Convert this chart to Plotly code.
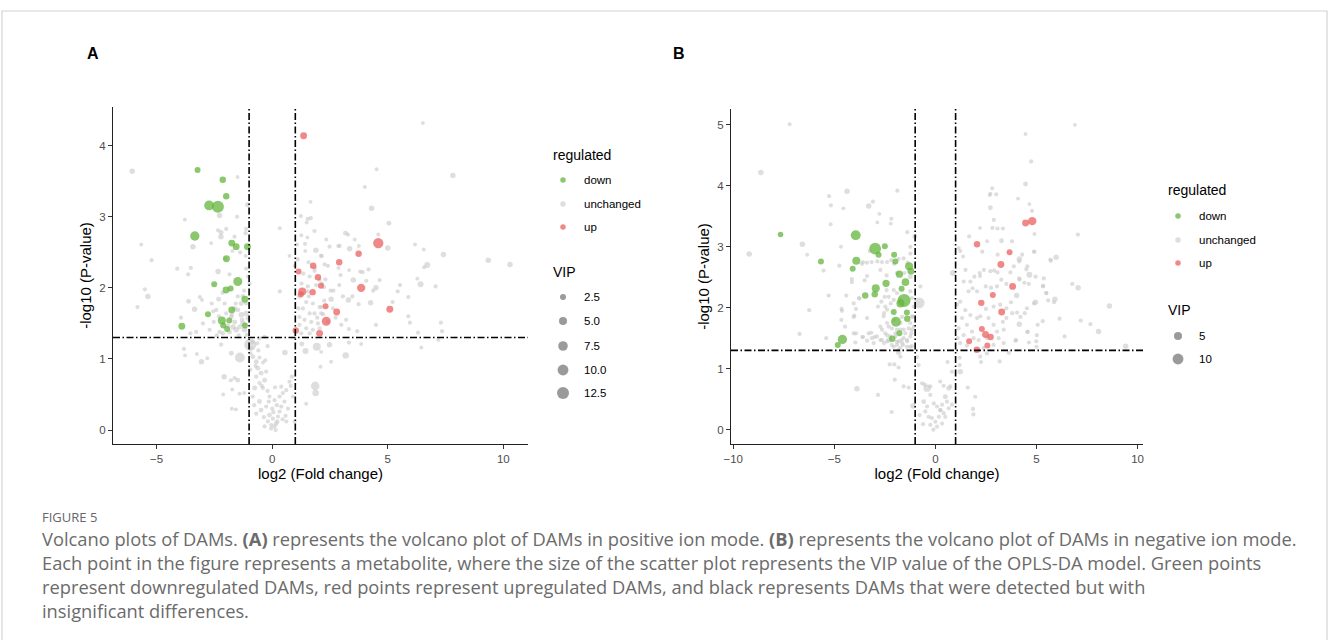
import math
import plotly.graph_objects as go

W, H = 1330, 640

# ---------------- DATA : panel A (positive ion mode) ----------------
A_down_x = [-3.23, -2.14, -1.99, -2.73, -2.35, -3.35, -1.75, -1.56, -1.07, -1.98,
            -1.49, -2.51, -2.00, -1.80, -1.18, -1.75, -2.78, -2.18, -1.86, -1.18,
            -3.91, -2.12, -1.95]
A_down_y = [3.66, 3.52, 3.29, 3.16, 3.14, 2.73, 2.63, 2.58, 2.58, 2.41,
            2.09, 2.05, 1.97, 1.99, 1.84, 1.69, 1.63, 1.54, 1.54, 1.47,
            1.46, 1.47, 1.42]
A_down_vip = [2.5, 3, 3, 8, 12.5, 7, 3.5, 3.5, 3.5, 3.5,
              6.5, 2.5, 3.5, 2.5, 3.5, 3.5, 2.5, 5, 2.5, 2.5,
              3.5, 2.5, 2.5]

A_up_x = [1.36, 4.59, 3.74, 2.90, 1.77, 1.14, 1.98, 2.11, 3.85, 1.30,
          1.24, 1.75, 2.31, 2.79, 5.09, 2.34, 1.02, 2.05]
A_up_y = [4.14, 2.63, 2.48, 2.36, 2.31, 2.23, 2.15, 2.03, 2.00, 1.95,
          1.91, 1.94, 1.74, 1.66, 1.70, 1.53, 1.40, 1.36]
A_up_vip = [3.5, 9, 3, 3, 3, 2.5, 3, 2.5, 5.5, 5,
            2.5, 3, 2.5, 3.5, 3.5, 6.5, 3, 3.5]

A_un_x = [-6.06, 6.52, 4.52, 7.82, -1.50, 4.01, -1.07, 4.30, 1.66, -2.28,
          -1.52, 1.24, 1.54, 1.67, 1.49, -3.78, 5.05, 0.33, -1.99, 1.83,
          -2.34, -2.21, -1.15, -1.13, 1.26, 1.52, 3.17, 3.28, -2.22, -1.63,
          -5.67, -3.43, -2.64, 5.00, 6.18, 6.56, 2.86, 2.34, 3.57, 3.35,
          3.75, 1.07, 1.43, 1.89, 0.75, 7.41, -1.72, -1.39, -1.15, -5.22,
          9.35, 10.29, 6.71, 6.57, -3.52, -4.11, -2.34, -1.85, -2.05, -1.13,
          -3.64, 4.17, 3.91, 3.81, 2.27, 2.41, 2.14, 2.48, 2.92, 2.87,
          3.33, 1.57, 2.11, 0.97, 1.83, 2.96, 4.65, 3.51, 4.07, 2.90,
          2.53, 2.24, 2.05, 4.49, 4.37, 5.53, 6.42, 6.28, 7.07, 5.43,
          5.89, 5.21, 4.26, 3.74, 3.30, 3.47, 3.06, 2.55, 2.63, 2.20,
          2.12, 2.74, 3.20, 2.99, 3.32, 3.68, 4.49, 5.89, 5.96, 7.30,
          7.35, 6.31, 7.19, 6.45, 3.85, 3.32, 2.48, 3.18, 2.55, 2.12,
          2.09, 1.86, 1.88, 0.33, -5.51, -5.38, -3.13, -3.62, -2.32, -2.15,
          -5.83, -3.36, -3.95, -2.55, -3.04, -2.42, -2.31, -2.53, -3.00, -3.29,
          -3.54, -2.71, -2.28, -2.14, -1.70, -1.56, -1.41, -1.27, -1.20, -1.34,
          -1.13, -1.05, -1.49, -1.34, -1.49, -1.27, -2.06, -1.99, -1.63, -1.77,
          -1.85, -1.13, -1.05, -0.98,
          -3.82, -3.77, -3.06, -3.26, -2.81, -2.21, -1.77, -1.40, -0.95, -0.94,
          -0.84, -0.55, -0.33, -2.08, -1.79, -1.63, -1.49, -1.73, -2.12, -1.21,
          -1.41, -1.75, -1.57, -0.84, -0.69, -0.55, -0.62, -0.69, -0.48, -0.26,
          -0.33, -0.55, -0.76, -0.40, -0.84, -0.55, -0.69, -0.48, -0.26, -0.12,
          0.10, -0.12, 0.03, 0.17, -0.04, -0.19, 0.25, 0.32, 0.39, 0.32,
          0.46, 0.53, 0.61, 0.39, 0.75, 0.89, 0.97, 0.61, 0.10, -0.33,
          1.47, 0.55, 1.44, 1.93, 1.28, -0.40, -0.20, 0.00, 0.20, -0.05,
          0.15, -0.90, -0.72, -0.60, -0.45, -0.30, -0.15, 0.05, 0.22, 0.45,
          0.68, 0.80, -0.95, -0.78, -0.36, 0.12, 0.58, 0.85, -0.65, -0.20,
          1.27, 1.62, 1.54, 1.18, 1.47, 1.76, 2.05, 1.33, 1.62, 1.83,
          2.12, 1.18, 1.40, 1.69, 1.98, 1.18, 1.47, 1.76, 2.05, 1.26,
          1.62, 1.13, 1.54, 1.90, 2.16, 4.59,
          -1.62, -1.45, -1.30, -1.10, -1.75, -1.58, -1.22, -1.92, -2.40, -2.62,
          1.35, 1.58, 1.85, 2.25, 2.40, 2.65, 1.10, 1.42, 1.95, 2.30]
A_un_y = [3.64, 4.32, 3.67, 3.58, 3.56, 3.42, 3.17, 3.12, 3.21, 3.02,
          3.00, 3.01, 2.97, 2.98, 2.92, 2.96, 2.91, 2.84, 2.83, 2.80,
          2.81, 2.78, 2.77, 2.83, 2.74, 2.71, 2.77, 2.75, 2.72, 2.72,
          2.61, 2.58, 2.63, 2.56, 2.61, 2.54, 2.59, 2.68, 2.68, 2.55,
          2.59, 2.61, 2.52, 2.53, 2.45, 2.47, 2.52, 2.50, 2.45, 2.39,
          2.39, 2.33, 2.32, 2.29, 2.28, 2.27, 2.23, 2.19, 2.41, 2.27,
          2.19, 2.26, 2.22, 2.23, 2.33, 2.31, 2.45, 2.58, 2.59, 2.28,
          2.25, 2.36, 2.45, 2.31, 2.24, 2.18, 2.11, 2.11, 2.10, 2.04,
          1.96, 2.01, 2.11, 2.00, 1.96, 2.04, 2.05, 2.13, 2.02, 1.95,
          1.87, 1.80, 1.79, 1.77, 1.83, 1.88, 1.88, 1.84, 1.71, 1.63,
          1.73, 1.58, 1.55, 1.48, 1.42, 1.39, 1.48, 1.60, 1.51, 1.51,
          1.39, 1.37, 1.27, 1.16, 1.21, 1.23, 1.20, 1.05, 0.96, 1.10,
          0.89, 0.62, 0.52, 1.95, 1.98, 1.88, 1.87, 1.81, 1.84, 1.93,
          1.73, 1.70, 1.58, 1.67, 1.83, 1.69, 1.60, 1.52, 1.50, 1.38,
          1.36, 1.41, 1.38, 1.36, 1.45, 1.41, 1.45, 1.50, 1.41, 1.62,
          1.64, 1.57, 1.69, 1.78, 1.88, 1.88, 1.78, 1.64, 1.71, 1.59,
          1.38, 1.78, 2.16, 2.06,
          1.14, 1.05, 0.96, 1.07, 1.01, 1.20, 1.08, 1.02, 1.20, 1.08,
          1.24, 1.29, 1.31, 0.75, 0.70, 0.73, 0.70, 0.57, 0.50, 0.52,
          0.51, 0.30, 0.29, 1.03, 0.96, 1.02, 0.87, 0.75, 0.80, 0.82,
          0.70, 0.66, 0.59, 0.59, 0.47, 0.40, 0.23, 0.28, 0.33, 0.47,
          0.42, 0.21, 0.16, 0.09, 0.07, 0.12, 0.19, 0.26, 0.33, 0.47,
          0.52, 0.40, 0.56, 0.61, 0.68, 0.47, 0.12, 0.12, 0.05, 0.05,
          0.37, 1.09, 1.11, 1.17, 1.21, 0.95, 0.55, 0.30, 0.35, 0.02,
          0.00, 1.15, 0.90, 1.12, 0.62, 0.98, 0.40, 0.25, 0.12, 0.15,
          0.30, 0.62, 0.85, 0.35, 0.18, 0.60, 0.20, 0.75, 1.22, 1.18,
          2.06, 2.16, 2.02, 1.88, 1.80, 1.78, 1.73, 1.71, 1.64, 1.64,
          1.64, 1.59, 1.55, 1.52, 1.50, 1.48, 1.43, 1.41, 1.43, 1.36,
          1.36, 1.71, 1.95, 2.04, 2.06, 2.75,
          1.52, 1.33, 1.55, 1.34, 1.62, 1.78, 1.96, 1.47, 1.33, 1.78,
          2.20, 1.88, 2.28, 1.82, 1.52, 1.96, 2.40, 2.62, 1.58, 2.12]
A_un_vip = [2, 0.8, 0.8, 2, 0.8, 0.8, 1.5, 2, 0.8, 2,
            1, 1, 1, 1, 0.8, 0.8, 1.5, 0.8, 1, 1,
            1, 1.5, 1, 1, 0.8, 0.8, 1.5, 1, 2, 1,
            0.8, 2, 0.8, 2, 0.8, 0.8, 0.8, 0.8, 0.8, 2,
            0.8, 0.8, 0.8, 2, 0.8, 2, 0.8, 1, 0.8, 1,
            2, 2, 2.5, 0.8, 1, 1, 2, 1, 1, 1,
            1, 1, 1, 1, 1, 1, 1, 1, 1, 0.8,
            0.8, 1, 1, 0.8, 1, 1, 1, 2, 1, 1,
            1, 1, 1, 2, 1, 1, 2.5, 0.8, 1, 1,
            1, 1, 2, 1, 2, 1, 1, 2, 1, 1,
            1, 1, 1, 1, 1, 1, 1, 1, 1, 1,
            1, 1, 1, 0.8, 0.8, 1, 2, 3, 0.8, 0.8,
            0.8, 6, 3, 1, 1, 2, 1, 1.5, 1.5, 1,
            1, 2, 1, 1, 0.8, 1, 1, 1, 1, 1,
            1, 1, 1, 1.5, 2, 2, 1.5, 2, 2, 2,
            2, 1.5, 1.5, 1.5, 1, 1.5, 1, 1, 1.5, 1.5,
            1.5, 1, 1, 1,
            1, 0.8, 2, 0.8, 0.8, 1, 1.5, 8, 13, 1,
            1, 1, 1, 2, 1, 1, 1.5, 0.8, 0.8, 0.8,
            1, 0.8, 0.8, 1.5, 1.5, 1, 1.5, 1, 1.5, 1,
            1.5, 1, 1.5, 1, 1, 1.5, 1, 1.5, 1, 1,
            1, 1.5, 1, 1.5, 1, 1, 1, 1, 1, 1,
            1, 1, 1, 1, 1, 0.8, 0.8, 0.8, 1, 1,
            0.8, 2, 2.5, 5, 1.5, 0.8, 1, 1, 1, 1,
            1, 1, 1, 1, 1, 1, 1, 1, 1, 1,
            1, 1, 1, 1, 1, 1, 1, 1, 1, 1,
            1, 1, 1, 1.5, 1, 1, 1, 1, 1, 1,
            1, 1, 1, 1, 1, 1, 1, 1, 1, 1,
            1, 1, 1, 1, 1, 0.8,
            1.5, 1, 1.5, 1, 1, 1, 1, 1, 1, 1,
            1, 1, 1, 1, 1, 1, 1, 1, 1, 1]

# ---------------- DATA : panel B (negative ion mode) ----------------
B_down_x = [-7.66, -3.94, -2.98, -2.50, -2.81, -2.04, -5.66, -3.91, -4.09, -1.98,
            -1.30, -1.21, -1.78, -2.44, -1.48, -2.95, -1.67, -3.47, -3.00, -1.55,
            -1.73, -2.06, -1.41, -1.95, -1.39, -1.78, -2.13, -4.60, -4.83]
B_down_y = [3.20, 3.19, 2.97, 3.01, 2.87, 2.87, 2.76, 2.77, 2.64, 2.76,
            2.68, 2.60, 2.55, 2.40, 2.42, 2.32, 2.31, 2.20, 2.22, 2.12,
            2.07, 1.93, 1.92, 1.77, 1.82, 1.58, 1.49, 1.48, 1.39]
B_down_vip = [2, 8, 12, 2.5, 2.5, 2.5, 2.5, 5, 2.5, 2.5,
              5, 3.5, 4, 4, 4.5, 5, 2.5, 3, 3, 15,
              5, 2.5, 2.5, 8, 3, 2.5, 3, 7, 2.5]

B_up_x = [4.79, 4.46, 2.06, 3.67, 3.24, 3.82, 2.84, 2.27, 3.28, 2.30,
          2.48, 2.73, 1.67, 2.57, 2.05]
B_up_y = [3.42, 3.39, 3.04, 2.91, 2.71, 2.35, 2.21, 2.08, 1.93, 1.65,
          1.56, 1.52, 1.45, 1.38, 1.31]
B_up_vip = [5.5, 3.5, 3, 2.5, 3.5, 3.5, 2.5, 3, 3.5, 2.5,
            3.5, 3, 2.5, 2.5, 3]

B_un_x = [-7.21, 6.90, 4.46, -8.63, 4.74, 4.46, 2.81, -4.37, -1.88, 2.69,
          -5.26, -3.09, -3.30, -5.17, -4.55, 4.09, 4.65, 2.72, -2.77, -2.18,
          -2.21, 2.89, 2.21, 2.82, 3.07, -2.87, -5.18, -1.39, -1.02, 7.05,
          4.90, 1.67, -6.58, -9.21, -6.34, -4.67, -1.24, -1.24, 2.56, 3.27,
          4.29, 4.87, 5.97, 5.71, 1.37, -5.53, -4.13, -4.13, -3.38, -3.15,
          -2.87, -2.64, -3.63, -3.50, -2.41, -2.72, -2.39, -2.05, -1.90, -1.53,
          -1.24, -4.75, -3.58, -3.38, -2.18, -1.82, -1.57, -1.37, -3.25,
          1.49, 2.19, 2.72, 3.07, 3.71, 3.88, 4.65, 4.16, 4.62, 5.33,
          6.77, 7.06, 5.48, 5.91, 5.58, 8.61, 6.14, 7.19, 7.67, 8.07,
          6.39, 5.02, 9.41, 5.00, 4.55, 3.96, 4.21, 4.88, 3.80, 3.38,
          2.72, 3.01, 4.78, 3.34, 3.79, 2.32, 3.08, 4.15, 4.90, 5.69,
          4.15, 4.55, 4.50, 2.40, 2.91, 4.96, 5.36, 1.93, 2.21, 0.87,
          1.40, 1.15, 1.23, 3.26, 3.51, 4.15, 4.40, 2.49, 2.75, 3.05,
          1.73, 2.06, 1.64, 1.84, 5.32, 5.49, 5.87, 4.99, 4.63, 3.99,
          4.57, 5.06, 5.31, 4.15, 4.53, 4.95, 4.42, 4.04, 3.51, 3.74,
          4.02, 3.51, 3.34, 3.21, 2.88, 2.50, 2.06, 1.73, 1.48, 1.23,
          1.07, 1.32, 1.56, 1.15, 1.40, 1.81, 1.89, 2.14, 2.88, 3.05,
          3.13, 3.38, 2.88, 2.39, 1.56, 1.23, 1.10, 2.55, 2.22, 2.63,
          2.22, 2.55, 3.18, 3.63, 1.20, 2.26, 1.23, 0.82, 0.60, 1.20,
          0.24, 0.41, 0.66, 0.74, 0.49, 0.57, 0.33, 0.82, 0.66, 0.24,
          0.49, 0.33, 1.60, 1.97, 1.86, 1.88,
          -6.24, -6.72, -5.40, -4.64, -4.65, -4.47, -3.93, -3.78, -4.04, -4.41,
          -5.28, -4.04, -3.58, -3.17, -3.00, -3.38, -2.84, -2.51, -2.41, -2.21,
          -2.54, -2.72, -2.48, -2.29, -2.54, -2.06, -1.82, -1.60, -1.24, -1.40,
          -1.19, -1.07, -1.12, -1.07, -1.65, -2.06, -2.31, -1.73, -1.98, -1.49,
          -1.68, -1.90, -2.72, -3.05, -3.38, -0.80, -1.73, -2.06, -2.39, -0.74,
          -4.62, -4.04, -4.01, -3.75, -3.93, -3.61, -3.96, -3.30, -3.14, -2.89,
          -2.67, -2.48, -2.56, -2.39, -2.64, -2.39, -2.64, -2.15, -1.90, -2.23,
          -1.98, -1.82, -1.57, -1.40, -1.24, -1.16, -1.32, -1.57, -1.73, -1.24,
          -1.16, -1.65, -1.90, -2.15, -2.39, -1.73, -1.40, -1.16, -2.06, -2.31,
          -1.90, -1.24, -1.16,
          -1.82, -1.73, -2.26, -2.03, -1.82, -2.01, -3.88, -2.84, -2.16, -1.11,
          -0.91, -0.83, -0.66, -0.41, -0.53, -0.25, -1.57, -1.32, -0.58, -0.41,
          -0.25, -0.08, 0.08, 0.25, -0.50, -0.33, -0.17, 0.00, 0.17, 0.41,
          -0.78, -0.61, -0.25, 0.08, -0.10]
B_un_y = [5.01, 5.00, 4.85, 4.22, 4.40, 4.03, 3.96, 3.91, 3.92, 3.85,
          3.83, 3.74, 3.67, 3.68, 3.63, 3.79, 3.70, 3.64, 3.54, 3.46,
          3.38, 3.44, 3.31, 3.31, 3.30, 3.40, 3.37, 3.24, 3.17, 3.20,
          3.21, 3.17, 3.04, 2.88, 2.87, 3.00, 3.00, 2.89, 3.09, 3.10,
          2.87, 2.92, 2.83, 2.77, 2.84, 2.61, 2.47, 2.42, 2.52, 2.75,
          2.76, 2.75, 2.72, 2.45, 2.53, 2.62, 2.75, 2.72, 2.57, 2.57,
          2.51, 2.69, 2.75, 2.74, 2.78, 2.80, 2.81, 2.74, 2.93,
          2.62, 2.57, 2.60, 2.58, 2.58, 2.68, 2.54, 2.46, 2.39, 2.36,
          2.39, 2.33, 2.24, 2.14, 2.12, 2.03, 1.82, 1.79, 1.73, 1.61,
          1.53, 1.55, 1.37, 1.36, 1.60, 1.46, 1.85, 2.07, 1.91, 1.64,
          3.87, 3.86, 3.59, 3.30, 3.09, 2.92, 2.87, 2.80, 2.92, 2.79,
          2.76, 2.68, 2.63, 2.62, 2.61, 2.51, 2.48, 2.51, 2.52, 2.57,
          2.43, 2.98, 2.93, 2.46, 2.39, 2.48, 2.41, 2.35, 2.33, 2.35,
          2.43, 2.27, 2.27, 2.32, 2.35, 2.24, 2.09, 1.45, 1.43, 1.47,
          1.61, 1.72, 1.78, 1.73, 1.99, 2.09, 1.91, 1.92, 1.99, 2.09,
          2.20, 1.83, 1.77, 2.05, 2.02, 1.98, 1.83, 1.88, 1.96, 2.10,
          2.05, 1.83, 1.72, 1.66, 1.55, 1.61, 1.50, 1.47, 1.72, 1.61,
          1.50, 1.42, 1.39, 1.34, 1.38, 1.42, 1.50, 1.50, 1.86, 1.83,
          1.20, 1.25, 1.12, 1.26, 1.18, 1.11, 0.95, 0.95, 1.11, 1.06,
          0.79, 0.72, 0.68, 0.71, 0.54, 0.46, 0.41, 0.41, 0.35, 0.32,
          0.21, 0.10, 0.69, 0.54, 0.34, 0.25,
          1.96, 1.57, 1.50, 1.98, 1.80, 1.69, 1.98, 2.16, 1.85, 2.20,
          2.20, 1.58, 1.52, 1.59, 1.52, 1.83, 2.02, 2.18, 2.29, 2.07,
          1.91, 1.69, 1.58, 1.47, 1.42, 1.36, 1.31, 1.39, 1.36, 1.47,
          1.58, 1.69, 1.85, 2.02, 1.85, 1.80, 1.69, 1.64, 1.58, 1.58,
          1.47, 1.44, 1.47, 1.42, 1.46, 2.08, 2.13, 2.13, 1.97, 2.35,
          1.95, 2.07, 1.87, 2.15, 1.58, 1.52, 1.43, 1.58, 1.50, 1.53,
          2.10, 2.02, 1.86, 1.75, 1.64, 1.55, 1.47, 1.66, 1.64, 1.53,
          1.53, 1.45, 1.50, 1.45, 1.53, 1.64, 1.66, 1.64, 1.75, 1.75,
          1.86, 1.42, 1.39, 1.39, 1.45, 1.34, 1.36, 1.37, 2.29, 2.18,
          2.24, 2.27, 2.16,
          1.27, 1.20, 1.07, 1.07, 1.02, 0.82, 0.67, 0.57, 0.29, 0.39,
          1.19, 1.06, 0.76, 0.68, 0.74, 0.71, 0.71, 0.69, 0.46, 0.38,
          0.57, 0.43, 0.38, 0.32, 0.30, 0.21, 0.19, 0.13, 0.21, 0.27,
          0.24, 0.09, 0.08, 0.05, 0.00]
B_un_vip = [0.8, 0.8, 0.8, 2, 1, 1.5, 0.8, 2, 1, 0.8,
            1, 1, 2, 1, 0.8, 0.8, 0.8, 1.5, 0.8, 1,
            0.8, 1, 0.8, 1, 1, 0.8, 0.8, 1, 1.5, 1,
            0.8, 1, 2, 2, 0.8, 0.8, 1, 1, 0.8, 1.5,
            1, 0.8, 2, 1, 0.8, 1, 1, 1, 1, 1,
            1, 1, 1, 1, 1, 1, 1, 1, 1, 1,
            1.5, 1, 1, 1, 1, 1, 1, 1, 1,
            1, 1, 1, 1, 1, 1, 2.5, 1, 1, 1,
            1, 2, 1, 2, 1, 2, 1, 1, 1, 2,
            1, 1, 2, 1, 1, 1, 1, 1, 1, 1,
            1, 1, 1, 1, 1, 1, 1, 2, 1, 1,
            1, 1, 1, 1, 1, 1, 1, 1, 1, 2.5,
            1, 1, 1, 1, 1, 1, 1, 1, 1, 1,
            1, 1, 1, 1, 1, 1, 1, 1, 1, 1,
            1, 1, 1, 2, 1, 2, 1, 1, 1, 1,
            2, 1, 1, 1, 1, 1, 1, 1, 1, 1,
            1, 1, 1, 1, 1, 1, 1, 1, 1, 1,
            1, 1, 1, 1, 1, 1, 1, 1, 1, 1,
            1, 1, 1, 1, 1, 1, 2, 1, 1, 1,
            1, 1, 1.5, 1, 1.5, 1, 1, 1, 1, 1,
            1, 1, 1, 1, 1, 1,
            1, 1, 1, 1, 1, 1, 1, 1, 1, 1,
            1, 1, 1, 1, 1, 1, 1, 1, 1, 1,
            1, 1, 1, 2, 1, 1, 1, 1, 1, 1,
            1, 1, 1, 1, 1, 1, 1, 1, 1, 1,
            1, 1, 1, 1, 1, 10, 1, 1, 1, 1,
            1, 1, 1, 1, 1, 1, 1, 1, 1, 1,
            1, 1, 1, 1, 1, 1, 1, 1, 1, 1,
            1, 1, 1, 1, 1, 1, 1, 1, 1, 1,
            1, 1, 1, 1, 1, 1, 1, 1, 1, 1,
            1, 1, 1,
            2, 1, 1, 1, 1, 1, 2, 1, 1, 2,
            1, 1, 1, 4, 1, 1, 1, 1, 1.5, 1,
            1, 1, 1, 1, 1, 1, 1, 1, 1, 1,
            1, 1, 1, 1, 1]

# legend content
REG_LABELS = ["down", "unchanged", "up"]
A_VIP_BREAKS = [2.5, 5.0, 7.5, 10.0, 12.5]
A_VIP_LABELS = ["2.5", "5.0", "7.5", "10.0", "12.5"]
B_VIP_BREAKS = [5, 10]
B_VIP_LABELS = ["5", "10"]
FC_CUT = 1.0
P_CUT = -math.log10(0.05)

CAPTION_HEAD = "FIGURE 5"
CAPTION_LINES = [
    "Volcano plots of DAMs. <b>(A)</b> represents the volcano plot of DAMs in positive ion mode. "
    "<b>(B)</b> represents the volcano plot of DAMs in negative ion mode.",
    "Each point in the figure represents a metabolite, where the size of the scatter plot represents "
    "the VIP value of the OPLS-DA model. Green points",
    "represent downregulated DAMs, red points represent upregulated DAMs, and black represents DAMs "
    "that were detected but with",
    "insignificant differences.",
]

# ---------------- STYLE ----------------
COL = {"down": "rgb(100,180,60)", "unchanged": "rgb(200,200,200)", "up": "rgb(236,96,96)"}
OPA = {"down": 0.75, "unchanged": 0.6, "up": 0.75}
FONT = "Liberation Sans, Arial, sans-serif"


def vip_size(v):
    return 1.15 + 3.07 * math.sqrt(v)


def px2x(p):
    return p / W


def px2y(p):
    return 1 - p / H


fig = go.Figure()

panels = [
    dict(xa="x", ya="y", down=(A_down_x, A_down_y, A_down_vip), un=(A_un_x, A_un_y, A_un_vip),
         up=(A_up_x, A_up_y, A_up_vip)),
    dict(xa="x2", ya="y2", down=(B_down_x, B_down_y, B_down_vip), un=(B_un_x, B_un_y, B_un_vip),
         up=(B_up_x, B_up_y, B_up_vip)),
]
for p in panels:
    for key in ["unchanged", "down", "up"]:
        xs, ys, vs = p["un" if key == "unchanged" else key]
        fig.add_trace(go.Scatter(
            x=xs, y=ys, mode="markers", xaxis=p["xa"], yaxis=p["ya"], showlegend=False,
            marker=dict(color=COL[key], opacity=OPA[key], size=[vip_size(v) for v in vs],
                        line=dict(width=0)),
            hoverinfo="skip"))

# axes
common = dict(showgrid=False, zeroline=False, showline=True, linecolor="#222", linewidth=1.2,
              ticks="outside", ticklen=4, tickwidth=1, tickcolor="#333", automargin=False,
              tickfont=dict(family=FONT, size=11.5, color="#4D4D4D"))
TITLE_FONT = dict(family=FONT, size=15, color="black")
fig.update_layout(
    template="none",
    xaxis=dict(domain=[px2x(113), px2x(528)], range=[-6.89, 11.07], tickvals=[-5, 0, 5, 10],
               anchor="y", title=dict(text="log2 (Fold change)", standoff=2, font=TITLE_FONT),
               **common),
    yaxis=dict(domain=[px2y(444), px2y(107)], range=[-0.197, 4.545], tickvals=[0, 1, 2, 3, 4],
               anchor="x", title=dict(text="-log10 (P-value)", standoff=3, font=TITLE_FONT),
               **common),
    xaxis2=dict(domain=[px2x(731), px2x(1143)], range=[-10.11, 10.27], tickvals=[-10, -5, 0, 5, 10],
                anchor="y2", title=dict(text="log2 (Fold change)", standoff=2, font=TITLE_FONT),
                **common),
    yaxis2=dict(domain=[px2y(444), px2y(109)], range=[-0.235, 5.26], tickvals=[0, 1, 2, 3, 4, 5],
                anchor="x2", title=dict(text="-log10 (P-value)", standoff=3, font=TITLE_FONT),
                **common),
    # overlay axis in pixel units for legends
    xaxis3=dict(domain=[0, 1], range=[0, W], visible=False, anchor="y3", fixedrange=True,
                automargin=False),
    yaxis3=dict(domain=[0, 1], range=[H, 0], visible=False, anchor="x3", fixedrange=True,
                automargin=False),
)

# threshold lines
DASH = "7px,2.5px,1.5px,2.5px"
for xa, ya in [("x", "y"), ("x2", "y2")]:
    for xv in [-FC_CUT, FC_CUT]:
        fig.add_shape(type="line", xref=xa, yref=ya + " domain", x0=xv, x1=xv, y0=0, y1=1,
                      line=dict(color="black", width=1.6, dash=DASH))
    fig.add_shape(type="line", xref=xa + " domain", yref=ya, x0=0, x1=1, y0=P_CUT, y1=P_CUT,
                  line=dict(color="black", width=1.6, dash=DASH))

# legends (drawn on pixel overlay axis)
legends = [
    dict(x=551, title_y=155, reg_y=[180, 204, 227], vip_title_y=272, vip_y=[297, 321, 346, 370, 393],
         breaks=A_VIP_BREAKS, labels=A_VIP_LABELS),
    dict(x=1166, title_y=190, reg_y=[216, 240, 263], vip_title_y=310, vip_y=[336, 359],
         breaks=B_VIP_BREAKS, labels=B_VIP_LABELS),
]
ann = []
for lg in legends:
    sx = lg["x"] + 12
    tx = lg["x"] + 31
    for key, yy in zip(REG_LABELS, lg["reg_y"]):
        fig.add_trace(go.Scatter(x=[sx], y=[yy], mode="markers", xaxis="x3", yaxis="y3",
                                 showlegend=False, hoverinfo="skip",
                                 marker=dict(color=COL[key], opacity=OPA[key], size=5.5,
                                             line=dict(width=0))))
        ann.append(dict(x=tx, y=yy, text=key))
    fig.add_trace(go.Scatter(x=[sx] * len(lg["breaks"]), y=lg["vip_y"], mode="markers",
                             xaxis="x3", yaxis="y3", showlegend=False, hoverinfo="skip",
                             marker=dict(color="rgb(120,120,120)", opacity=0.75,
                                         size=[vip_size(v) for v in lg["breaks"]],
                                         line=dict(width=0))))
    for lab, yy in zip(lg["labels"], lg["vip_y"]):
        ann.append(dict(x=tx, y=yy, text=lab))
    fig.add_annotation(x=px2x(lg["x"]), y=px2y(lg["title_y"]), xref="paper", yref="paper",
                       text="regulated", showarrow=False, xanchor="left", yanchor="middle",
                       font=dict(family=FONT, size=14, color="black"))
    fig.add_annotation(x=px2x(lg["x"]), y=px2y(lg["vip_title_y"]), xref="paper", yref="paper",
                       text="VIP", showarrow=False, xanchor="left", yanchor="middle",
                       font=dict(family=FONT, size=14, color="black"))
for a in ann:
    fig.add_annotation(x=px2x(a["x"]), y=px2y(a["y"]), xref="paper", yref="paper", text=a["text"],
                       showarrow=False, xanchor="left", yanchor="middle",
                       font=dict(family=FONT, size=11.5, color="black"))

# panel letters
for letter, xp in [("A", 93), ("B", 679)]:
    fig.add_annotation(x=px2x(xp), y=px2y(54), xref="paper", yref="paper", text="<b>%s</b>" % letter,
                       showarrow=False, xanchor="center", yanchor="middle",
                       font=dict(family=FONT, size=16, color="black"))

# caption
CAP_FONT = "Open Sans, sans-serif"
fig.add_annotation(x=px2x(40), y=px2y(517), xref="paper", yref="paper", text=CAPTION_HEAD,
                   showarrow=False, xanchor="left", yanchor="middle",
                   font=dict(family=CAP_FONT, size=13, color="#666666"))
for line, yp in zip(CAPTION_LINES, [538, 562, 586, 610]):
    fig.add_annotation(x=px2x(40), y=px2y(yp), xref="paper", yref="paper", text=line,
                       showarrow=False, xanchor="left", yanchor="middle",
                       font=dict(family=CAP_FONT, size=18.3, color="#6b6b6b"))

# frame
fig.add_shape(type="rect", xref="paper", yref="paper", x0=px2x(2), x1=px2x(1327), y0=px2y(700),
              y1=px2y(11), line=dict(color="#d4d4d4", width=1.2), layer="below")

fig.update_layout(width=W, height=H, autosize=False, margin=dict(l=0, r=0, t=0, b=0, pad=0),
                  paper_bgcolor="white", plot_bgcolor="rgba(0,0,0,0)", showlegend=False)

fig.write_html("out.html")
